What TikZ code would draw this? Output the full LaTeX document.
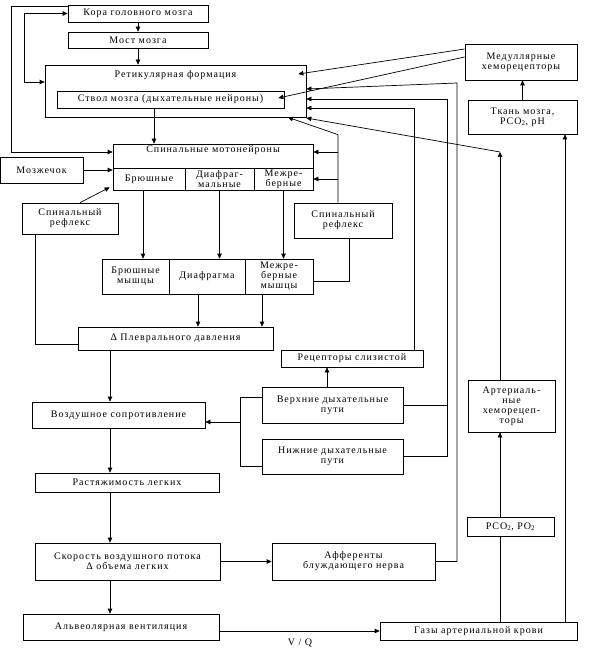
\documentclass[tikz,border=0pt]{standalone}
\usepackage{fontspec}
\setmainfont{Liberation Serif}[LetterSpace=10]
\usetikzlibrary{arrows.meta,calc}

\begin{document}
\begin{tikzpicture}[
  x=1pt, y=-1pt,
  font=\fontsize{10}{10}\selectfont,
  blk/.style={draw=black, line width=0.7pt, align=center, inner sep=0pt},
  ln/.style={draw=black, line width=0.7pt},
  arr/.style={ln, -{Triangle[length=5pt,width=4.5pt]}},
  dbl/.style={ln, {Triangle[length=5pt,width=4.5pt]}-{Triangle[length=5pt,width=4.5pt]}}
]
\useasboundingbox (0,0) rectangle (591,660);

\node[blk, minimum width=140pt, minimum height=17pt] (kora) at (138,13.5) {Кора головного мозга};
\node[blk, minimum width=140pt, minimum height=16pt] (most) at (138,40) {Мост мозга};
\node[blk, minimum width=261pt, minimum height=52pt] (ret) at (175.5,91) {};
\node (rettxt) at (175.5,75) {Ретикулярная формация};
\node[blk, minimum width=227pt, minimum height=17pt] (stvol) at (170.5,99.5) {Ствол мозга (дыхательные нейроны)};

\node[blk, minimum width=200pt, minimum height=24pt] (mototop) at (213,156) {};
\node (mototxt) at (213,150) {Спинальные мотонейроны};
\node[blk, minimum width=72pt, minimum height=22pt] (bru) at (149,179) {Брюшные};
\node[blk, minimum width=69pt, minimum height=22pt] (dia) at (219.5,179) {Диафраг-\\мальные};
\node[blk, minimum width=59pt, minimum height=22pt] (mezh) at (283.5,179) {Межре-\\берные};
\node[blk, minimum width=83pt, minimum height=26pt] (mozz) at (41.5,170) {Мозжечок};
\node[blk, minimum width=96pt, minimum height=31pt] (refL) at (70,218.5) {Спинальный\\рефлекс};
\node[blk, minimum width=98pt, minimum height=35pt] (refR) at (343,220.5) {Спинальный\\рефлекс};

\node[blk, minimum width=67pt, minimum height=35pt] (mbru) at (135.5,276.5) {Брюшные\\мышцы};
\node[blk, minimum width=76pt, minimum height=35pt] (mdia) at (207,276.5) {Диафрагма};
\node[blk, minimum width=68pt, minimum height=35pt] (mmezh) at (279,276.5) {Межре-\\берные\\мышцы};
\node[blk, minimum width=195pt, minimum height=23pt] (pleura) at (175.5,338.5) {Δ Плеврального давления};

\node[blk, minimum width=142pt, minimum height=17pt] (recep) at (352,358.5) {Рецепторы слизистой};
\node[blk, minimum width=141pt, minimum height=36pt] (upper) at (332.5,405) {Верхние дыхательные\\пути};
\node[blk, minimum width=141pt, minimum height=35pt] (lower) at (332.5,456.5) {Нижние дыхательные\\пути};
\node[blk, minimum width=173pt, minimum height=26pt] (resist) at (118.5,415) {Воздушное сопротивление};
\node[blk, minimum width=184pt, minimum height=19pt] (compl) at (127,482.5) {Растяжимость легких};
\node[blk, minimum width=185pt, minimum height=37pt] (flow) at (127.5,561.5) {Скорость воздушного потока\\Δ объема легких};
\node[blk, minimum width=163pt, minimum height=37pt] (aff) at (353.5,561.5) {Афференты\\блуждающего нерва};
\node[blk, minimum width=196pt, minimum height=26pt] (alv) at (121,627) {Альвеолярная вентиляция};
\node[blk, minimum width=197pt, minimum height=18pt] (gas) at (478.5,631) {Газы артериальной крови};
\node (vq) at (300,643) {V / Q};

\node[blk, minimum width=112pt, minimum height=36pt] (medul) at (521,62) {Медуллярные\\хеморецепторы};
\node[blk, minimum width=109pt, minimum height=34pt] (tkan) at (522.5,117) {Ткань мозга,\\PCO\textsubscript{2}, pH};
\node[blk, minimum width=87pt, minimum height=52pt] (achemo) at (511.5,406) {Артериаль-\\ные\\хеморецеп-\\торы};
\node[blk, minimum width=87pt, minimum height=19pt] (pco) at (510.5,526.5) {PCO\textsubscript{2}, PO\textsubscript{2}};

\coordinate (col) at (110,0);
\coordinate (cs) at (154,0);
\coordinate (cb) at (143,0);
\coordinate (cp1) at (198,0);
\coordinate (cp2) at (262,0);
\coordinate (cl) at (338,0);
\coordinate (cu) at (327,0);
\coordinate (cr) at (414,0);
\coordinate (cg) at (500,0);
\coordinate (ct) at (565,0);
\coordinate (bus) at (240,422);
\coordinate (airw) at (447,99);
\coordinate (vag) at (457,83);
\coordinate (artc) at (500,152);

\draw[arr] (kora) -- (most);
\draw[arr] (most.south) -- (most.south |- ret.north);
\draw[arr] (stvol.south -| cs) -- (mototop.north -| cs);
\draw[arr] ([yshift=-2pt]kora.north west) -- ++(-56,0) |- ($(mototop.west)+(0,-4)$);
\draw[dbl] (kora.west) -| (24,82) -- ($(ret.west)+(0,-9)$);
\draw[arr] (mozz.east) -- (mozz.east -| mototop.west);
\draw[arr] ([xshift=10pt]refL.north) -- ($(bru.south west)+(-3,-3)$);
\draw[ln] ([xshift=-35pt]refL.south) |- ($(pleura.west)+(0,5.5)$);
\draw[arr] (refR.north -| cl) -- ++(0,-68) -- ($(ret.south)+(112.5,0)$);
\draw[arr] ($(mototop.east -| cl)+(0,-4)$) -- ($(mototop.east)+(0,-4)$);
\draw[arr] (mezh.east -| cl) -- (mezh.east);
\draw[ln] ([xshift=6pt]refR.south) |- ($(mmezh.east)+(0,4.5)$);
\draw[arr] (bru.south -| cb) -- (mbru.north -| cb);
\draw[arr] (dia.south) -- (dia.south |- mdia.north);
\draw[arr] (mezh.south) -- (mezh.south |- mmezh.north);
\draw[arr] (mdia.south -| cp1) -- (pleura.north -| cp1);
\draw[arr] (mmezh.south -| cp2) -- (pleura.north -| cp2);
\draw[arr] (pleura.south -| col) -- (resist.north -| col);
\draw[arr] (resist.south -| col) -- (compl.north -| col);
\draw[arr] (compl.south -| col) -- (flow.north -| col);
\draw[arr] (flow.south -| col) -- (alv.north -| col);
\draw[ln] ($(upper.west)+(0,-8)$) -| (bus);
\draw[ln] ($(lower.west)+(0,9.5)$) -| (bus);
\draw[arr] (bus) -- (bus -| resist.east);
\draw[arr] (upper.north -| cu) -- (recep.south -| cu);
\draw[arr] (recep.north -| cr) |- ($(ret.east)+(0,17)$);
\draw[arr] (lower.east) -| (airw) -- (airw -| ret.east);
\draw[ln] (upper.east) -- (upper.east -| airw);
\draw[arr] (aff.east) -| (vag) -- ($(ret.east)+(0,-2)$);
\draw[arr] ($(medul.west)+(0,-13)$) -- ($(ret.east)+(-8,-17)$);
\draw[arr] ($(medul.west)+(0,-5)$) -- ($(stvol.east)+(-6,-1.5)$);
\draw[arr] (tkan.north) -- (tkan.north |- medul.south);
\draw[arr] (gas.north -| ct) -- (tkan.south -| ct);
\draw[ln] (gas.north -| cg) -- (pco.south -| cg);
\draw[arr] (pco.north -| cg) -- (achemo.south -| cg);
\draw[arr] (achemo.north -| cg) -- (artc);
\draw[arr] (artc) -- ($(ret.east)+(0,27)$);
\draw[arr] (flow.east) -- (aff.west);
\draw[arr] (gas.west -| alv.east) -- (gas.west);
\end{tikzpicture}
\end{document}
